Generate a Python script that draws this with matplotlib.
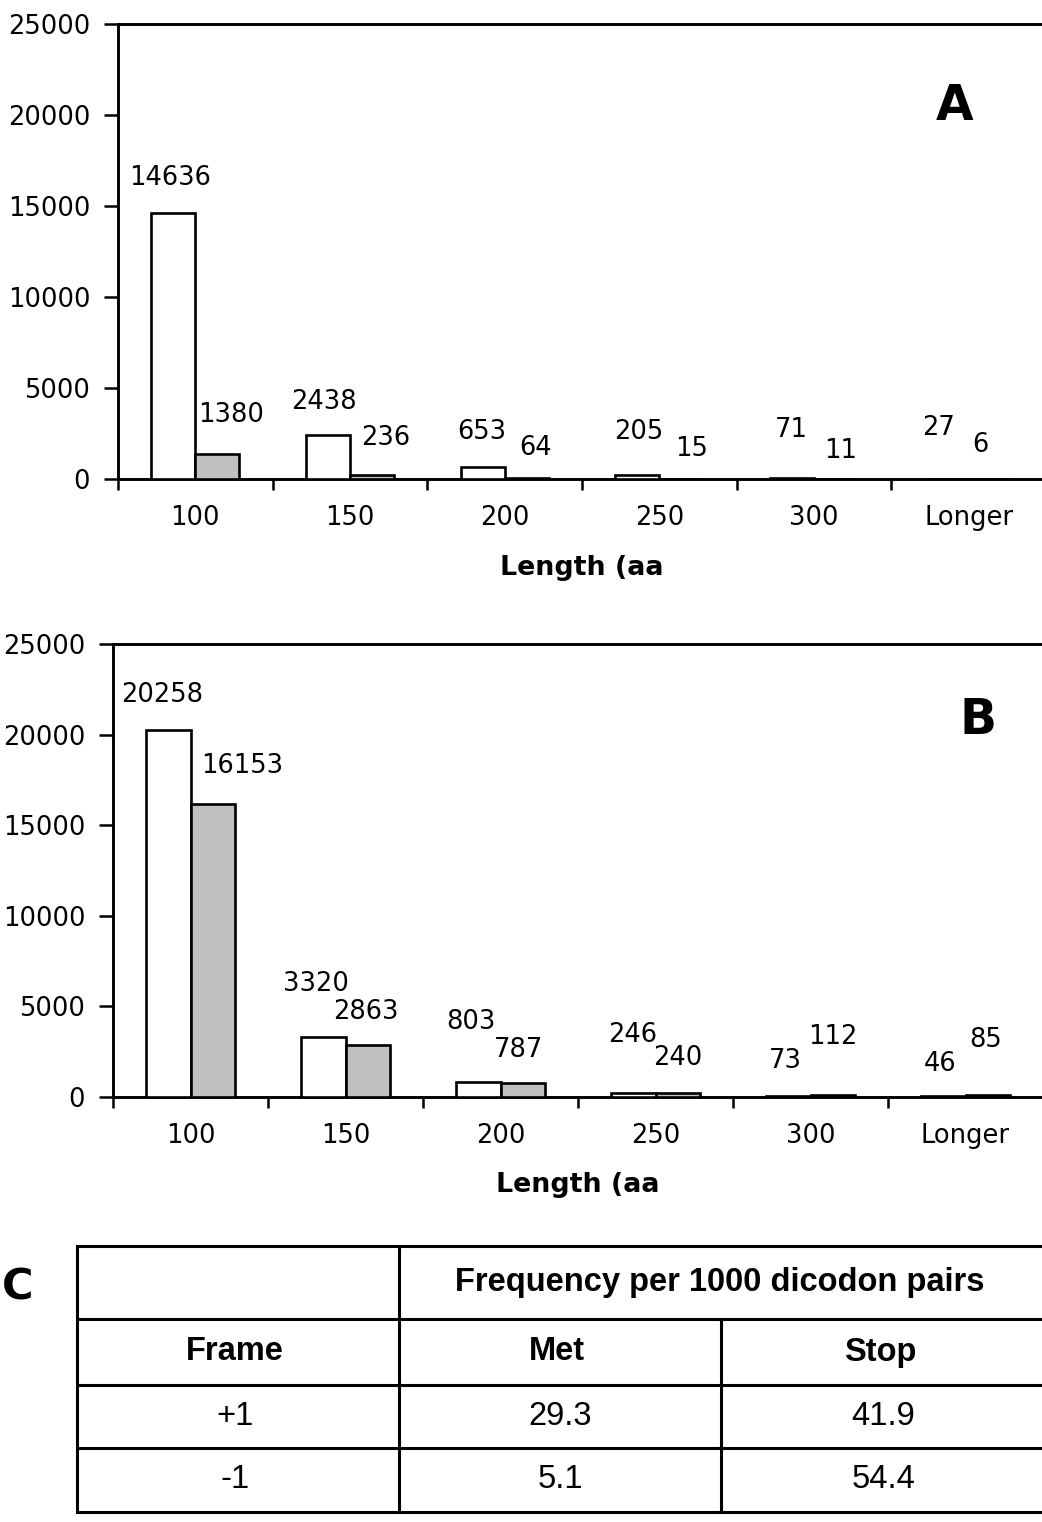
import matplotlib
matplotlib.use("Agg")
import matplotlib.pyplot as plt
import numpy as np

# ---------------- data ----------------
categories = ["100", "150", "200", "250", "300", "Longer"]
a_white = [14636, 2438, 653, 205, 71, 27]
a_grey = [1380, 236, 64, 15, 11, 6]
b_white = [20258, 3320, 803, 246, 73, 46]
b_grey = [16153, 2863, 787, 240, 112, 85]
y_ticks = [0, 5000, 10000, 15000, 20000, 25000]
x_label = "Length (aa"

table_header = "Frequency per 1000 dicodon pairs"
table_cols = ["Frame", "Met", "Stop"]
frames = ["+1", "-1"]
met = [29.3, 5.1]
stop = [41.9, 54.4]

# label offsets (pixels) relative to bar top centre -- positions only
a_white_off = [(-3, 35), (-4, 33), (-1, 35), (1, 43), (-1, 48), (-8, 51)]
a_grey_off = [(14, 39), (14, 37), (9, 30), (10, 30), (5, 28), (-10, 34)]
b_white_off = [(-6, 35), (-7, 53), (-7, 60), (-1, 58), (-3, 35), (-3, 32)]
b_grey_off = [(30, 38), (-2, 33), (-4, 33), (0, 35), (0, 58), (-2, 55)]

W, H = 1042, 1522
fig = plt.figure(figsize=(W / 100, H / 100), dpi=100)
fig.patch.set_facecolor("white")


def px_axes(x0, y0, x1, y1):
    return fig.add_axes([x0 / W, 1 - y1 / H, (x1 - x0) / W, (y1 - y0) / H])


FS = 18.5
bw = 0.285
off = 0.1425
GREY = "#c0c0c0"


def bar_panel(ax, white, grey, woff, goff, letter, letter_xy):
    x = np.arange(len(categories)) + 0.5
    ax.bar(x - off, white, width=bw, color="white", edgecolor="black", linewidth=1.9, zorder=3)
    ax.bar(x + off, grey, width=bw, color=GREY, edgecolor="black", linewidth=1.9, zorder=3)
    for xi, v, (dx, dy) in zip(x - off, white, woff):
        ax.annotate(str(v), xy=(xi, v), xytext=(dx, dy), textcoords="offset pixels",
                    ha="center", va="center", fontsize=FS, family="DejaVu Sans")
    for xi, v, (dx, dy) in zip(x + off, grey, goff):
        ax.annotate(str(v), xy=(xi, v), xytext=(dx, dy), textcoords="offset pixels",
                    ha="center", va="center", fontsize=FS, family="DejaVu Sans")
    ax.set_xlim(0, len(categories))
    ax.set_ylim(0, 25000)
    ax.set_yticks(y_ticks)
    ax.set_yticklabels([str(t) for t in y_ticks], fontsize=FS, family="DejaVu Sans")
    ax.set_xticks(np.arange(len(categories) + 1))
    ax.set_xticklabels([])
    ax.set_xticks(x, minor=True)
    ax.set_xticklabels(categories, minor=True, fontsize=FS, family="DejaVu Sans")
    ax.tick_params(axis="y", length=10, width=1.8, pad=10, direction="out")
    ax.tick_params(axis="x", which="major", length=8, width=1.8, direction="out")
    ax.tick_params(axis="x", which="minor", length=0, pad=19)
    for s in ["left", "bottom", "top"]:
        ax.spines[s].set_linewidth(2.1)
    ax.spines["right"].set_visible(False)
    ax.text(0.5, -0.195, x_label, transform=ax.transAxes, ha="center", va="center",
            fontsize=19.4, fontweight="bold", family="DejaVu Sans")
    ax.text(letter_xy[0], letter_xy[1], letter, transform=ax.transAxes, ha="center",
            va="center", fontsize=35, fontweight="bold", family="DejaVu Sans")


axA = px_axes(118, 24, 1046, 479)
bar_panel(axA, a_white, a_grey, a_white_off, a_grey_off, "A",
          ((955 - 118) / 928, 1 - (106 - 24) / 455))
axB = px_axes(113, 644, 1043, 1097)
bar_panel(axB, b_white, b_grey, b_white_off, b_grey_off, "B",
          ((978 - 113) / 930, 1 - (720 - 644) / 453))

# ---------------- table C ----------------
tax = fig.add_axes([0, 0, 1, 1], zorder=5)
tax.set_xlim(0, W)
tax.set_ylim(H, 0)
tax.axis("off")
tax.patch.set_alpha(0)

lw = 2.2
xs = [77, 399, 721, 1046]
ys = [1246, 1319, 1385, 1448, 1512]
for yy in ys:
    tax.plot([xs[0], xs[-1]], [yy, yy], color="black", lw=lw, solid_capstyle="butt")
tax.plot([xs[0], xs[0]], [ys[0], ys[-1]], color="black", lw=lw)
tax.plot([xs[1], xs[1]], [ys[0], ys[-1]], color="black", lw=lw)
tax.plot([xs[2], xs[2]], [ys[1], ys[-1]], color="black", lw=lw)

TF = 23.5
cx = [(xs[i] + xs[i + 1]) / 2 for i in range(3)]
tax.text((xs[1] + xs[3]) / 2 - 3, (ys[0] + ys[1]) / 2, table_header, ha="center", va="center",
         fontsize=TF, fontweight="bold", family="Liberation Sans")
for c, t in zip(cx, table_cols):
    tax.text(c - 3, (ys[1] + ys[2]) / 2, t, ha="center", va="center",
             fontsize=TF, fontweight="bold", family="Liberation Sans")
for r, (f, m, s) in enumerate(zip(frames, met, stop)):
    yc = (ys[r + 2] + ys[r + 3]) / 2
    tax.text(cx[0] - 3, yc, f, ha="center", va="center", fontsize=TF, family="Liberation Sans")
    tax.text(cx[1], yc, f"{m:.1f}", ha="center", va="center", fontsize=TF, family="Liberation Sans")
    tax.text(cx[2], yc, f"{s:.1f}", ha="center", va="center", fontsize=TF, family="Liberation Sans")

tax.text(2, 1288, "C", ha="left", va="center", fontsize=31, fontweight="bold",
         family="DejaVu Sans")

fig.savefig("out.png", dpi=100, facecolor="white")
